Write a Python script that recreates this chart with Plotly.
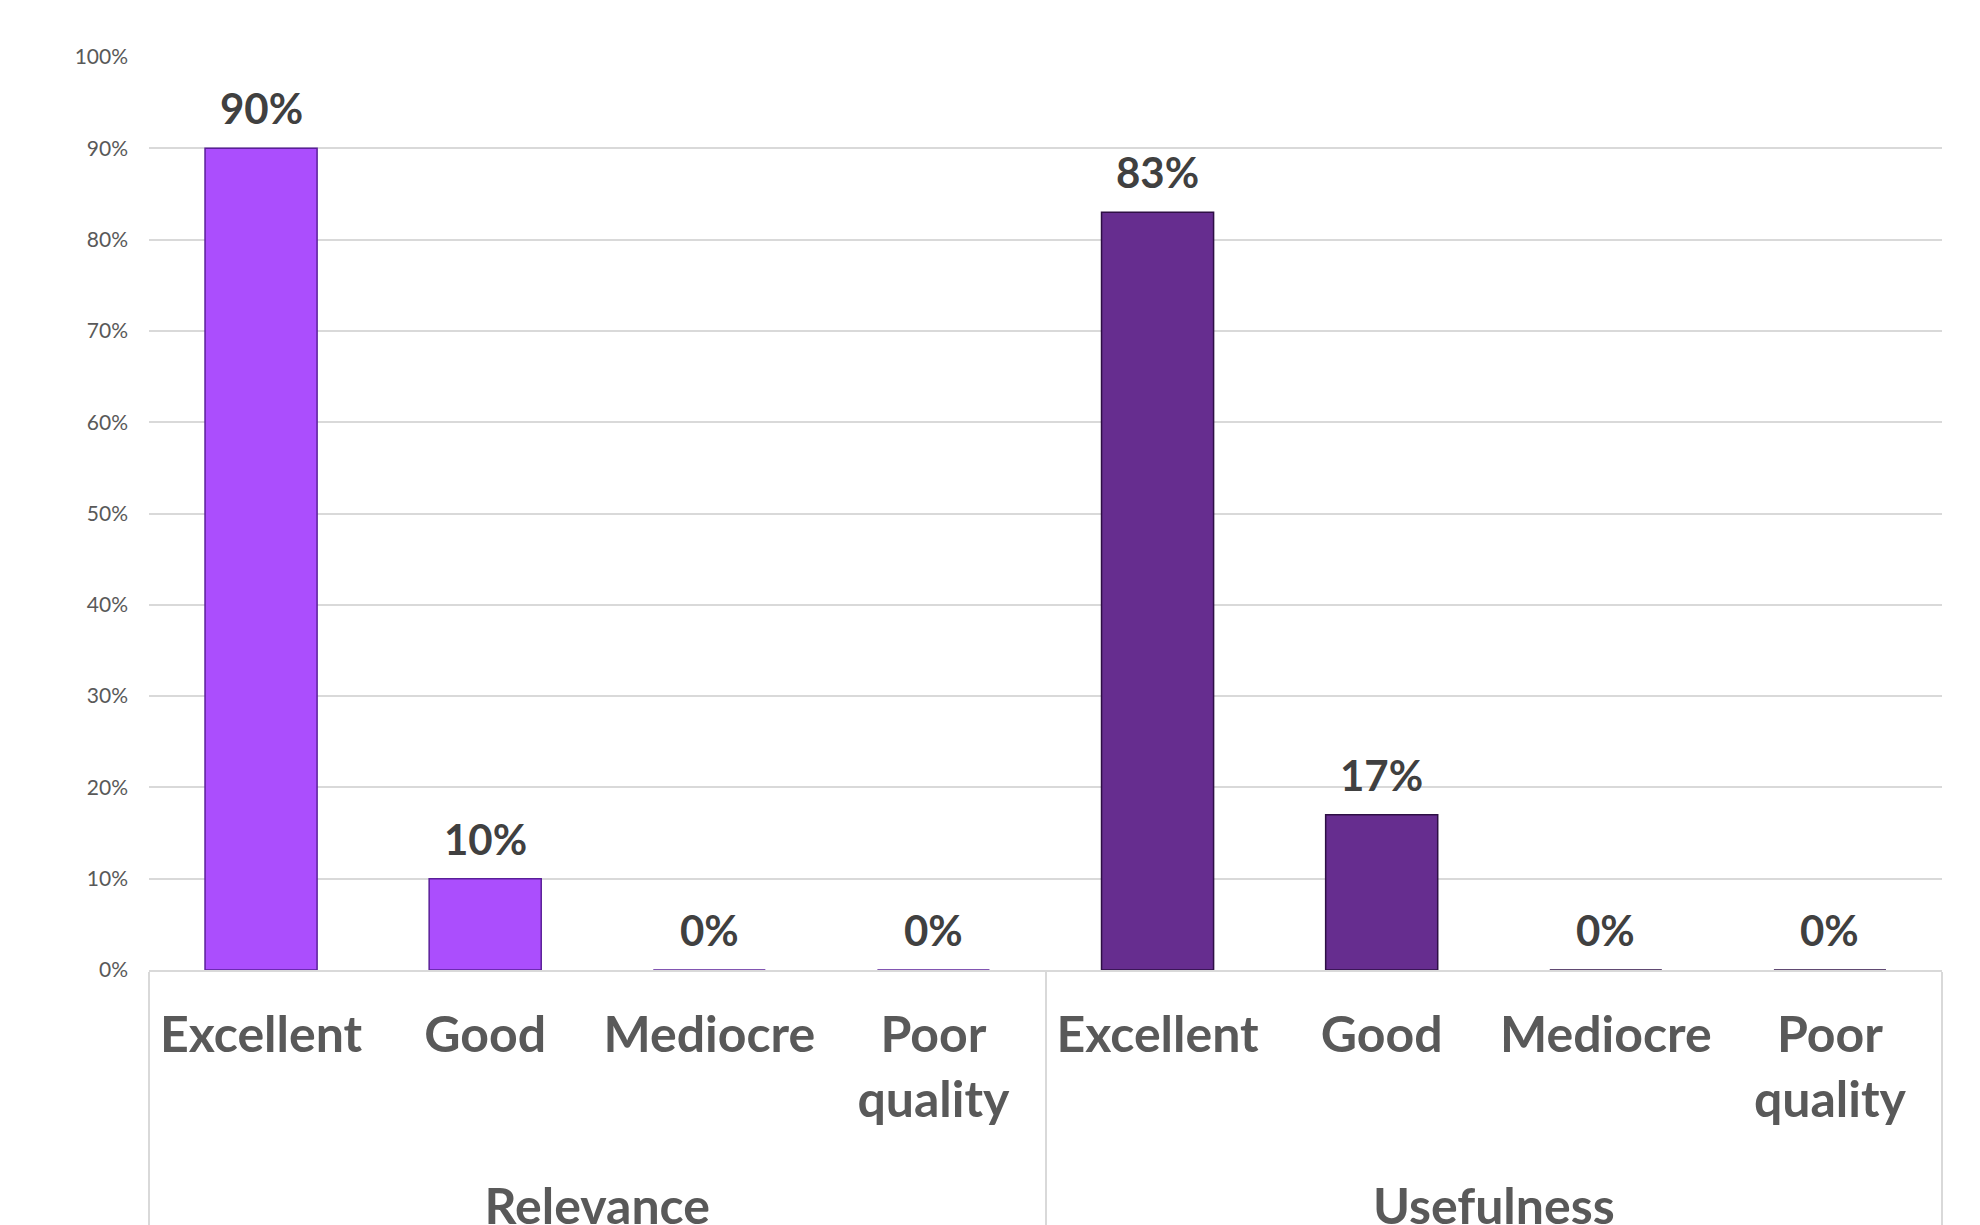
import plotly.graph_objects as go

groups = ["<br>Relevance", "<br>Relevance", "<br>Relevance", "<br>Relevance",
          "<br>Usefulness", "<br>Usefulness", "<br>Usefulness", "<br>Usefulness"]
categories = ["Excellent", "Good", "Mediocre", "Poor<br>quality",
              "Excellent", "Good", "Mediocre", "Poor<br>quality"]
values = [0.90, 0.10, 0.0, 0.0, 0.83, 0.17, 0.0, 0.0]
labels = ["90%", "10%", "0%", "0%", "83%", "17%", "0%", "0%"]
bar_colors = ["#AB4EFD"] * 4 + ["#662D8F"] * 4
edge_colors = ["#5A1F99"] * 4 + ["#2E0F45"] * 4
y_ticks = [0, 0.1, 0.2, 0.3, 0.4, 0.5, 0.6, 0.7, 0.8, 0.9, 1.0]
y_tick_text = ["0%", "10%", "20%", "30%", "40%", "50%", "60%", "70%", "80%", "90%", "100%"]

fig = go.Figure()
fig.add_trace(go.Bar(
    x=[groups, categories],
    y=values,
    marker=dict(color=bar_colors, line=dict(color=edge_colors, width=1.5)),
    showlegend=False,
    hoverinfo="skip",
))

for i, (v, t) in enumerate(zip(values, labels)):
    fig.add_annotation(
        x=i, y=v, xref="x", yref="y",
        text="<b>" + t + "</b>",
        showarrow=False, yanchor="bottom", yshift=13,
        font=dict(family="Lato", size=42, color="#404040"),
    )

fig.update_layout(
    width=1980, height=1225,
    paper_bgcolor="white", plot_bgcolor="white",
    margin=dict(l=149, r=38, t=57, b=255, autoexpand=False),
    bargap=0.5,
    font=dict(family="Lato"),
)
fig.update_yaxes(
    range=[0, 1.0],
    tickvals=y_ticks, ticktext=y_tick_text,
    showgrid=True, gridcolor="#D9D9D9", gridwidth=1.5,
    zeroline=False,
    tickfont=dict(family="Lato", size=21, color="#595959"),
    ticklabelstandoff=20,
    automargin=False,
)
fig.update_xaxes(
    type="multicategory",
    showline=True, linecolor="#D9D9D9", linewidth=2,
    showdividers=True, dividercolor="#D9D9D9", dividerwidth=2,
    tickfont=dict(family="Lato", size=50, color="#595959", weight="bold"),
    ticks="",
    ticklabelstandoff=20,
    automargin=False,
)

fig.write_html("out.html")
